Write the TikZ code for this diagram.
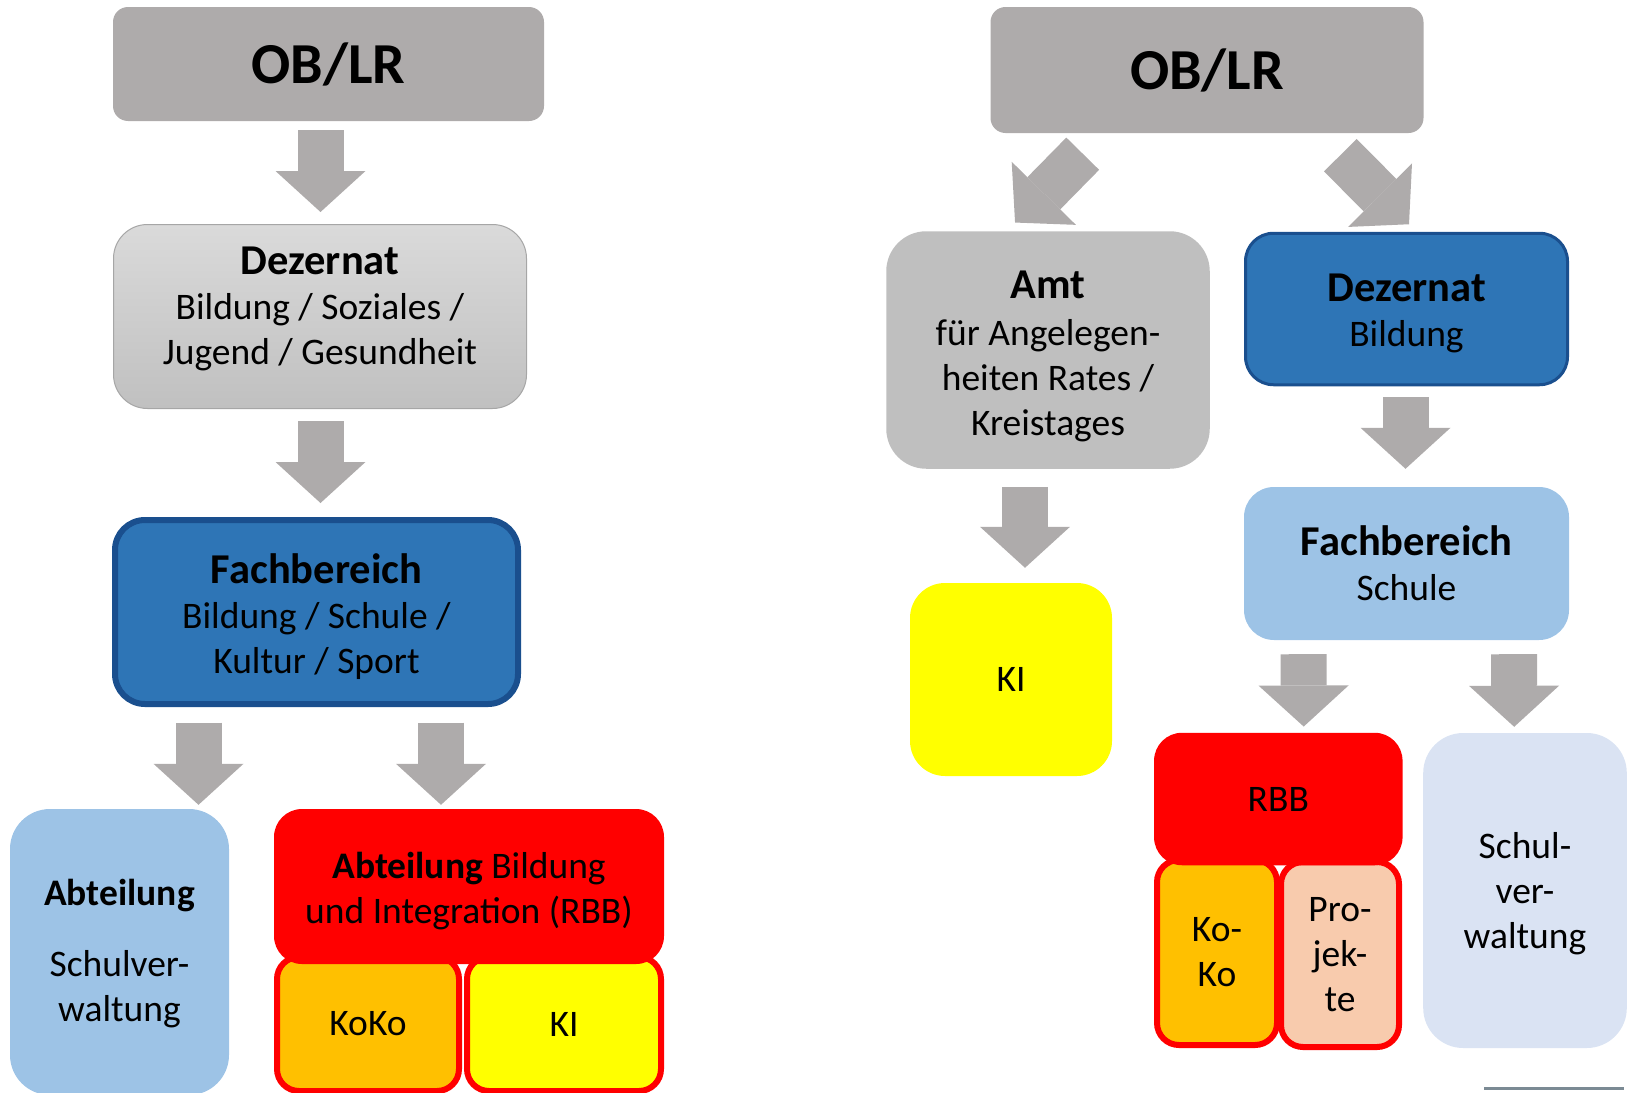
\documentclass[tikz,border=0pt]{standalone}
\usepackage{fontspec}
\setmainfont{Carlito}
\usetikzlibrary{arrows.meta,calc}
\definecolor{obgray}{HTML}{AEABAB}
\definecolor{arrowgray}{HTML}{AEABAB}
\definecolor{dezlight}{HTML}{DADADA}
\definecolor{dezdark}{HTML}{C0C0C0}
\definecolor{dezline}{HTML}{A6A6A6}
\definecolor{amtgray}{HTML}{BFBFBF}
\definecolor{fbblue}{HTML}{2E75B6}
\definecolor{fbline}{HTML}{1A4F8E}
\definecolor{lightblue}{HTML}{9DC3E6}
\definecolor{paleblue}{HTML}{DAE3F3}
\definecolor{rbbred}{HTML}{FF0000}
\definecolor{kokoorange}{HTML}{FFC000}
\definecolor{kiyellow}{HTML}{FFFF00}
\definecolor{projpeach}{HTML}{F8CBAD}
\definecolor{linegray}{HTML}{7B8A94}
\newcommand\hd[1]{{\fontsize{42.5}{45}\selectfont\bfseries #1}}
\newcommand\toph[1]{\rule{0pt}{#1}}
\newcommand\botd[1]{\rule[-#1]{0pt}{0pt}}
\begin{document}
\begin{tikzpicture}[x=1pt,y=-1pt,line join=round,
	box/.style={rectangle,rounded corners=#1,inner sep=0pt,align=center,font=\fontsize{37.5}{45}\selectfont},
	box/.default=28pt,
	obtext/.style={font=\fontsize{58}{60}\selectfont\bfseries},
	blockarrow/.style={draw=arrowgray,line width=46pt,-{Triangle[width=90pt,length=41pt,line width=0pt]}},
	redline/.style={draw=rbbred,line width=6pt}]
	\useasboundingbox (0,0) rectangle (1635,1092);
	\clip (0,0) rectangle (1635,1092);
	\node[box=15pt,fill=obgray,minimum width=431pt,minimum height=114pt,obtext] (ob1) at (328.5,64) {OB/LR};
	\node[box=34pt,top color=dezlight,bottom color=dezdark,draw=dezline,line width=1pt,minimum width=413pt,minimum height=184pt] (dez1) at (320,316.5) {\hd{Dezernat}\\Bildung / Soziales /\\Jugend / Gesundheit\botd{21pt}};
	\node[box=30pt,fill=fbblue,draw=fbline,line width=6pt,minimum width=403pt,minimum height=184pt] (fb1) at (316.5,612) {\toph{40pt}\hd{Fachbereich}\\Bildung / Schule /\\Kultur / Sport};
	\node[box=40pt,fill=lightblue,minimum width=219pt,minimum height=286pt] (abt1) at (119.5,952) {\toph{30pt}\textbf{Abteilung}\\[26pt]Schulver-\\waltung};
	\node[box=22pt,fill=kokoorange,redline,minimum width=182pt,minimum height=134pt] (koko1) at (368,1024) {KoKo};
	\node[box=22pt,fill=kiyellow,redline,minimum width=194pt,minimum height=134pt] (ki1) at (564,1024) {KI};
	\node[box=28pt,fill=rbbred,minimum width=390pt,minimum height=155pt] (rbb1) at (469,886.5) {\toph{35pt}\textbf{Abteilung} Bildung\\und Integration (RBB)};
	\draw[blockarrow] ($(ob1.south)+(-8,9)$) -- ($(dez1.north)+(0.5,-12)$);
	\draw[blockarrow] ($(dez1.south)+(0.5,12)$) -- ($(fb1.north)+(4,-14)$);
	\draw[blockarrow] ($(fb1.south)+(-118,15.6)$) -- ($(abt1.north)+(79,-4)$);
	\draw[blockarrow] ($(fb1.south)+(124.5,15.6)$) -- ($(rbb1.north)+(-28,-4)$);
	\node[box=15pt,fill=obgray,minimum width=433pt,minimum height=126pt,obtext] (ob2) at (1207,70) {OB/LR};
	\node[box=40pt,fill=amtgray,minimum width=323.5pt,minimum height=237.5pt] (amt) at (1048,350) {\toph{40pt}\hd{Amt}\\[2pt]für Angelegen-\\heiten Rates /\\Kreistages};
	\node[box=28pt,fill=fbblue,draw=fbline,line width=3pt,minimum width=322pt,minimum height=151.5pt] (dez2) at (1406.5,309) {\toph{36pt}\hd{Dezernat}\\Bildung};
	\node[box=35pt,fill=kiyellow,minimum width=202pt,minimum height=193pt] (ki2) at (1011,679.5) {KI};
	\node[box=30pt,fill=lightblue,minimum width=325pt,minimum height=153pt] (fb2) at (1406.5,563.5) {\hd{Fachbereich}\\Schule};
	\node[box=22pt,fill=kokoorange,redline,minimum width=120pt,minimum height=185pt] (koko2) at (1217,952.5) {Ko-\\Ko};
	\node[box=22pt,fill=projpeach,redline,minimum width=118pt,minimum height=185pt] (proj2) at (1340,954.5) {Pro-\\jek-\\te};
	\node[box=28pt,fill=rbbred,minimum width=248.5pt,minimum height=132.5pt] (rbb2) at (1278.3,799) {RBB};
	\node[box=40pt,fill=paleblue,minimum width=203.6pt,minimum height=315pt] (schul2) at (1525,890.5) {\toph{32pt}Schul-\\ver-\\waltung};
	\draw[blockarrow] ($(ob2.south west)+(92.4,20.5)$) -- ($(amt.north west)+(129,-8.5)$);
	\draw[blockarrow] ($(ob2.south west)+(350,22)$) -- ($(dez2.north west)+(165,-7.5)$);
	\draw[blockarrow] ($(amt.south)+(-23,18)$) -- ($(ki2.north)+(14,-15)$);
	\draw[blockarrow] ($(dez2.south)+(-1,11)$) -- ($(fb2.north)+(-1,-18)$);
	\draw[blockarrow] ($(fb2.south)+(-103,14)$) -- ($(rbb2.north)+(25.4,-6)$);
	\draw[blockarrow] ($(fb2.south)+(107.5,14)$) -- ($(schul2.north)+(-10.8,-6)$);
	\draw[linegray,line width=3.5pt] (1484,1088.5) -- (1624,1088.5);
\end{tikzpicture}
\end{document}
